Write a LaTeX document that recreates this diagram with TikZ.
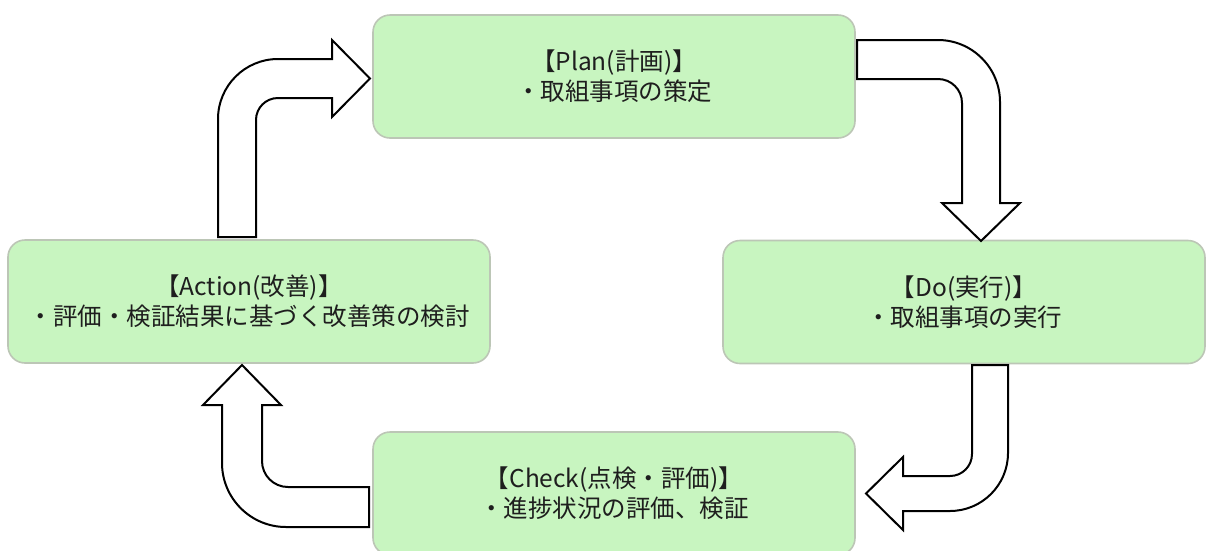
\documentclass[tikz,border=0pt]{standalone}
\usepackage{fontspec}
\setmainfont{Noto Sans CJK JP}
\usetikzlibrary{calc}
\definecolor{boxfill}{HTML}{C8F5C0}
\definecolor{boxline}{HTML}{BCC6B6}
\definecolor{txt}{HTML}{1E1E1E}
\tikzset{
  pdcabox/.style={draw=boxline, line width=1.6pt, fill=boxfill, rounded corners=17pt,
    minimum width=482pt, minimum height=123pt, inner sep=0pt, align=center,
    font=\fontsize{24.5}{30}\selectfont, text=txt},
  blockarrow/.style={draw=black, line width=2pt, fill=white, line join=miter}
}
\begin{document}
\begin{tikzpicture}[x=1pt,y=-1pt]
\useasboundingbox (0,0) rectangle (1207,550);
% boxes
\node[pdcabox] (plan)   at (614,76.5)   {【Plan(計画)】\\・取組事項の策定};
\node[pdcabox] (do)     at (964,302)    {【Do(実行)】\\・取組事項の実行};
\node[pdcabox] (check)  at (614,493.5)  {【Check(点検・評価)】\\・進捗状況の評価、検証};
\node[pdcabox] (action) at (249,301.5)  {【Action(改善)】\\・評価・検証結果に基づく改善策の検討};
% Action -> Plan
\draw[blockarrow] (218,237) -- (218,119) .. controls (218,85.9) and (244.9,59) .. (278,59)
  -- (332,59) -- (332,40) -- (370,78.5) -- (332,117) -- (332,98) -- (278,98)
  .. controls (265.8,98) and (256,107.8) .. (256,120) -- (256,237) -- cycle;
% Plan -> Do
\draw[blockarrow] (857,40) -- (938,40) .. controls (972.2,40) and (1000,67.8) .. (1000,102)
  -- (1000,203) -- (1020,203) -- (981,241) -- (942,203) -- (962,203) -- (962,103)
  .. controls (962,89.7) and (951.3,79) .. (938,79) -- (857,79) -- cycle;
% Do -> Check
\draw[blockarrow] (972,365) -- (1008,365) -- (1008,453) .. controls (1008,485) and (982,511) .. (950,511)
  -- (903,511) -- (903,530) -- (866,493.5) -- (903,457) -- (903,476) -- (950,476)
  .. controls (962.2,476) and (972,466.2) .. (972,454) -- cycle;
% Check -> Action
\draw[blockarrow] (369,487) -- (369,527) -- (286,527) .. controls (250.7,527) and (222,498.3) .. (222,463)
  -- (222,405) -- (203,405) -- (242,365) -- (281,405) -- (262,405) -- (262,461)
  .. controls (262,475.4) and (273.6,487) .. (288,487) -- cycle;
\end{tikzpicture}
\end{document}
